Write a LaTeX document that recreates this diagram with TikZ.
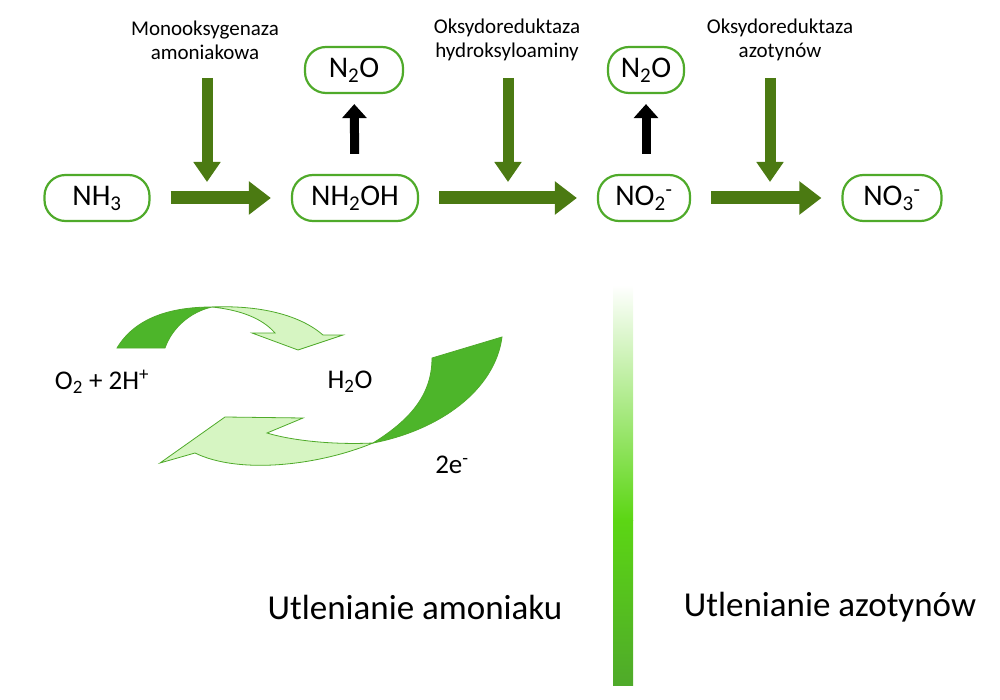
\documentclass[tikz,border=0pt]{standalone}
\usepackage{fontspec}
\setmainfont{Carlito}
\usetikzlibrary{arrows.meta,positioning}
\definecolor{boxgreen}{HTML}{4FAA2A}
\definecolor{flowgreen}{HTML}{4B7A12}
\definecolor{darkleaf}{HTML}{4DB52A}
\definecolor{lightleaf}{HTML}{D6F5C2}
\definecolor{bargreen}{HTML}{5CD614}
\newcommand{\sub}[1]{\textsubscript{#1}}
\newcommand{\sups}[1]{\textsuperscript{#1}}
\tikzset{
  chem/.style={draw=boxgreen,line width=2.2pt,rounded corners=21pt,minimum height=46pt,
    inner xsep=12pt,font=\fontsize{30}{34}\selectfont},
  enzyme/.style={align=center,font=\fontsize{21}{24}\selectfont},
  flow/.style={draw=flowgreen,line width=13pt,-{Triangle[length=22pt,width=32pt]},shorten <=20pt,shorten >=20pt},
  feed/.style={draw=flowgreen,line width=11pt,-{Triangle[length=20pt,width=26pt]}},
  side/.style={draw=black,line width=9pt,-{Triangle[length=14pt,width=24pt]},shorten <=20pt,shorten >=10pt},
  leaf/.style={draw=boxgreen,line width=0.8pt},
  big/.style={font=\fontsize{35}{40}\selectfont},
  species/.style={font=\fontsize{27}{30}\selectfont}
}
\begin{document}
\begin{tikzpicture}[x=1pt,y=-1pt]
  \useasboundingbox (0,0) rectangle (1000,700);
  % main chain
  \node[chem,minimum width=105pt] (nh3) at (97,198) {NH\sub{3}};
  \node[chem,minimum width=126pt] (nh2oh) at (355,198) {NH\sub{2}OH};
  \node[chem,minimum width=92pt] (no2) at (644,198) {NO\sub{2}\sups{-}};
  \node[chem,minimum width=99pt] (no3) at (892,198) {NO\sub{3}\sups{-}};
  \node[chem,minimum width=98pt] (n2oa) at (354,70) {N\sub{2}O};
  \node[chem,minimum width=76pt] (n2ob) at (646,70) {N\sub{2}O};

  \draw[flow] (nh3) -- (nh2oh);
  \draw[flow] (nh2oh) -- (no2);
  \draw[flow] (no2) -- (no3);
  \draw[side] (nh2oh) -- (n2oa);
  \draw[side] (no2.north -| n2ob) -- (n2ob);

  % enzymes
  \node[enzyme] (amo) at (205,40) {Monooksygenaza\\amoniakowa};
  \node[enzyme] (hao) at (507,40) {Oksydoreduktaza\\hydroksyloaminy};
  \node[enzyme] (nxr) at (780,40) {Oksydoreduktaza\\azotynów};
  \coordinate (amoend) at (207,182);
  \coordinate (haoend) at (508,182);
  \coordinate (nxrend) at (770,182);
  \draw[feed] (207,78) -- (amoend);
  \draw[feed] (508,78) -- (haoend);
  \draw[feed] (770,78) -- (nxrend);

  % divider
  \shade[top color=white,bottom color=bargreen] (613,285) rectangle (633,520);
  \shade[top color=bargreen,bottom color=boxgreen] (613,520) rectangle (633,685);

  % electron loop
  \node[species] (o2) at (102,382) {O\sub{2} + 2H\sups{+}};
  \node[species] (h2o) at (350,382) {H\sub{2}O};
  \node[species] (el) at (452,465) {2e\sups{-}};
  \fill[darkleaf,leaf] (117,348) .. controls (135,318) and (170,307) .. (212,307)
    .. controls (190,312) and (172,328) .. (165,348) -- cycle;
  \fill[lightleaf,leaf] (212,307) .. controls (260,305) and (300,315) .. (323,335)
    -- (343,335) -- (298,350) -- (252,333) -- (275,333)
    .. controls (262,318) and (240,310) .. (212,307) -- cycle;
  \fill[darkleaf,leaf] (502,337) .. controls (495,390) and (440,430) .. (373,443)
    .. controls (410,420) and (432,395) .. (432,358) -- cycle;
  \fill[lightleaf,leaf] (373,443) .. controls (330,445) and (290,440) .. (267,433)
    -- (303,418) -- (225,417) -- (160,463) -- (195,453)
    .. controls (240,475) and (320,465) .. (373,443) -- cycle;

  % phases
  \node[big] (p1) at (415,607) {Utlenianie amoniaku};
  \node[big] (p2) at (830,607) {Utlenianie azotynów};
\end{tikzpicture}
\end{document}
